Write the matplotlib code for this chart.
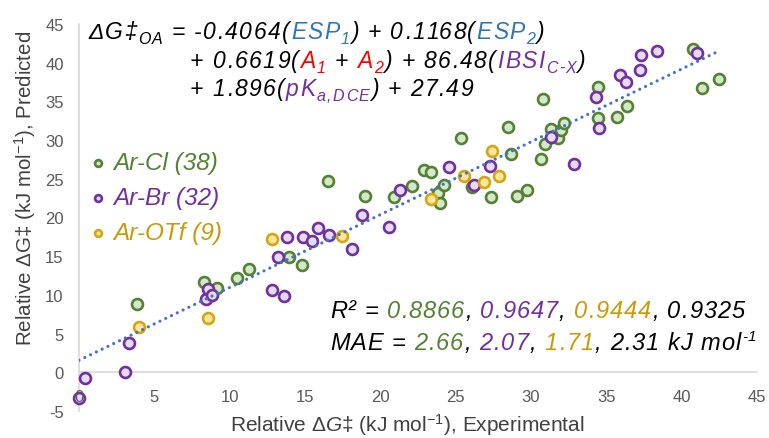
import numpy as np
import matplotlib
matplotlib.use("Agg")
import matplotlib.pyplot as plt
from matplotlib.transforms import IdentityTransform
from matplotlib.font_manager import FontProperties

plt.rcParams['font.family'] = ['Liberation Sans', 'DejaVu Sans']
plt.rcParams['mathtext.fontset'] = 'custom'
plt.rcParams['mathtext.rm'] = 'Liberation Sans'
plt.rcParams['mathtext.it'] = 'Liberation Sans:italic'
plt.rcParams['axes.unicode_minus'] = False

# data (experimental, predicted)
cl_x = [3.87, 8.3, 9.18, 10.46, 11.28, 13.93, 14.82, 16.54, 18.98, 20.92,
        22.12, 22.91, 23.34, 23.8, 23.95, 24.24, 25.35, 26.06, 27.34, 28.45,
        28.67, 29.04, 29.71, 30.64, 30.81, 30.92, 31.32, 31.4, 31.77, 31.98,
        32.2, 34.42, 34.42, 35.68, 36.34, 40.72, 41.32, 42.47]
cl_y = [8.79, 11.67, 10.94, 12.23, 13.3, 14.95, 13.87, 24.7, 22.8, 22.65,
        24.07, 26.1, 25.9, 23.2, 21.83, 24.16, 30.3, 24.0, 22.7, 31.7,
        28.25, 22.78, 23.55, 27.5, 35.36, 29.55, 31.4, 30.4, 30.3, 31.27,
        32.26, 36.9, 32.9, 33.0, 34.4, 41.8, 36.7, 37.85]

br_x = [0.0, 0.4, 3.05, 3.34, 8.4, 8.58, 8.85, 12.83, 13.23, 13.62,
        13.78, 14.84, 15.48, 15.84, 16.59, 18.1, 18.76, 20.57, 21.3, 24.55,
        26.23, 27.27, 31.32, 32.85, 34.29, 34.5, 35.9, 36.28, 37.23, 37.29,
        38.33, 41.03]
br_y = [-3.3, -0.78, 0.09, 3.84, 9.52, 10.72, 9.95, 10.63, 14.95, 9.86,
        17.5, 17.53, 16.97, 18.7, 17.8, 15.98, 20.3, 18.77, 23.5, 26.5,
        24.2, 26.6, 30.4, 26.96, 35.57, 31.5, 38.4, 37.56, 39.06, 40.96,
        41.5, 41.3]

otf_x = [4.0, 8.58, 12.83, 17.47, 23.36, 25.57, 26.9, 27.43, 27.9]
otf_y = [5.85, 7.07, 17.2, 17.6, 22.4, 25.4, 24.6, 28.6, 25.4]

labels = ['Ar-Cl (38)', 'Ar-Br (32)', 'Ar-OTf (9)']

GREEN, PURPLE, GOLD = '#548235', '#7030A0', '#C99A06'
BLUE, RED = '#2E75B6', '#FF0000'

W, H = 769, 439
fig = plt.figure(figsize=(W / 100, H / 100), dpi=100)
ax = fig.add_axes([79 / W, 1 - 412 / H, (757 - 79) / W, (412 - 25) / H])

ax.set_xlim(0, 45)
ax.set_ylim(-5, 45)
ax.set_xticks(range(0, 46, 5))
ax.set_yticks(range(-5, 46, 5))
for s in ['top', 'right']:
    ax.spines[s].set_visible(False)
ax.spines['bottom'].set_position(('data', 0))
for s in ['left', 'bottom']:
    ax.spines[s].set_color('#D9D9D9')
    ax.spines[s].set_linewidth(1.2)
    ax.spines[s].set_zorder(1)
ax.tick_params(length=0, labelsize=12, colors='#595959')
ax.tick_params(axis='x', pad=12)
ax.tick_params(axis='y', pad=11)
# tick labels sit on top of the markers (the "0" overlaps a point)
ax.xaxis.set_zorder(5)
ax.yaxis.set_zorder(5)

sty = dict(s=62, linewidths=1.9, clip_on=False, zorder=2)
ax.scatter(cl_x, cl_y, facecolor='#D5E8C9', edgecolor=GREEN, label=labels[0], **sty)
ax.scatter(br_x, br_y, facecolor='#E6DCF2', edgecolor=PURPLE, label=labels[1], **sty)
ax.scatter(otf_x, otf_y, facecolor='#FFE699', edgecolor='#D4A514', label=labels[2], **sty)

# linear trendline over all points
all_x = np.array(cl_x + br_x + otf_x)
all_y = np.array(cl_y + br_y + otf_y)
k, b = np.polyfit(all_x, all_y, 1)
xx = np.array([0, all_x.max()])
ax.plot(xx, k * xx + b, linestyle=(0, (0.01, 2.0)), color='#4472C4', lw=2.3,
        dash_capstyle='round', zorder=2.2)

leg = ax.legend(loc='upper left', bbox_to_anchor=(86 / W, 1 - 152 / H),
                bbox_transform=fig.transFigure, frameon=False, markerscale=0.62,
                handletextpad=0.1, handlelength=1.0, labelspacing=0.5,
                prop={'style': 'italic', 'size': 17.5},
                labelcolor=[GREEN, PURPLE, GOLD], borderaxespad=0, borderpad=0)

fig.text(407 / W, 1 - 425 / H,
         r'Relative $\Delta\mathit{G}$‡ (kJ mol$^{-1}$), Experimental',
         ha='center', va='center', fontsize=15, color='#404040')
fig.text(25 / W, 1 - 188 / H,
         r'Relative $\Delta$G‡ (kJ mol$^{-1}$), Predicted',
         ha='center', va='center', rotation=90, fontsize=14.8, color='#404040')

renderer = fig.canvas.get_renderer()


def rich(x0, y0, pieces, size, track):
    # pieces: (text, color, kind); kind n = normal, sub, sup
    x = x0
    for txt, col, kind in pieces:
        fs, dy = size, 0
        if kind == 'sub':
            fs, dy = size * 0.7, -size * 0.3
        elif kind == 'sup':
            fs, dy = size * 0.65, size * 0.5
        fp = FontProperties(family=['Liberation Sans', 'DejaVu Sans'],
                            style='italic', size=fs)
        for i, ch in enumerate(txt):
            w0 = renderer.get_text_width_height_descent(txt[:i], fp, False)[0] if i else 0
            fig.text(x + w0 + i * track, H - y0 + dy, ch, color=col,
                     fontproperties=fp, va='baseline', ha='left',
                     transform=IdentityTransform())
        wt = renderer.get_text_width_height_descent(txt, fp, False)[0]
        x += wt + len(txt) * track


K = 'black'
eq_size, eq_track = 16.5, 1.4
rich(88, 39, [('ΔG‡', K, 'n'), ('OA', K, 'sub'), (' = -0.4064(', K, 'n'),
              ('ESP', BLUE, 'n'), ('1', BLUE, 'sub'), (') + 0.1168(', K, 'n'),
              ('ESP', BLUE, 'n'), ('2', BLUE, 'sub'), (')', K, 'n')],
     eq_size, eq_track)
rich(190, 68, [('+ 0.6619(', K, 'n'), ('A', RED, 'n'), ('1', RED, 'sub'),
               (' + ', K, 'n'), ('A', RED, 'n'), ('2', RED, 'sub'),
               (') + 86.48(', K, 'n'), ('IBSI', PURPLE, 'n'),
               ('C-X', PURPLE, 'sub'), (')', K, 'n')], eq_size, eq_track)
rich(190, 96, [('+ 1.896(', K, 'n'), ('pK', PURPLE, 'n'),
               ('a,DCE', PURPLE, 'sub'), (') + 27.49', K, 'n')],
     eq_size, eq_track)

st_size, st_track = 17, 1.0
rich(330, 318, [('R² = ', K, 'n'), ('0.8866', GREEN, 'n'), (', ', K, 'n'),
                ('0.9647', PURPLE, 'n'), (', ', K, 'n'), ('0.9444', GOLD, 'n'),
                (', 0.9325', K, 'n')], st_size, st_track)
rich(330, 350, [('MAE = ', K, 'n'), ('2.66', GREEN, 'n'), (', ', K, 'n'),
                ('2.07', PURPLE, 'n'), (', ', K, 'n'), ('1.71', GOLD, 'n'),
                (', 2.31 kJ mol', K, 'n'), ('-1', K, 'sup')],
     st_size, st_track)

fig.savefig('out.png', dpi=100)
